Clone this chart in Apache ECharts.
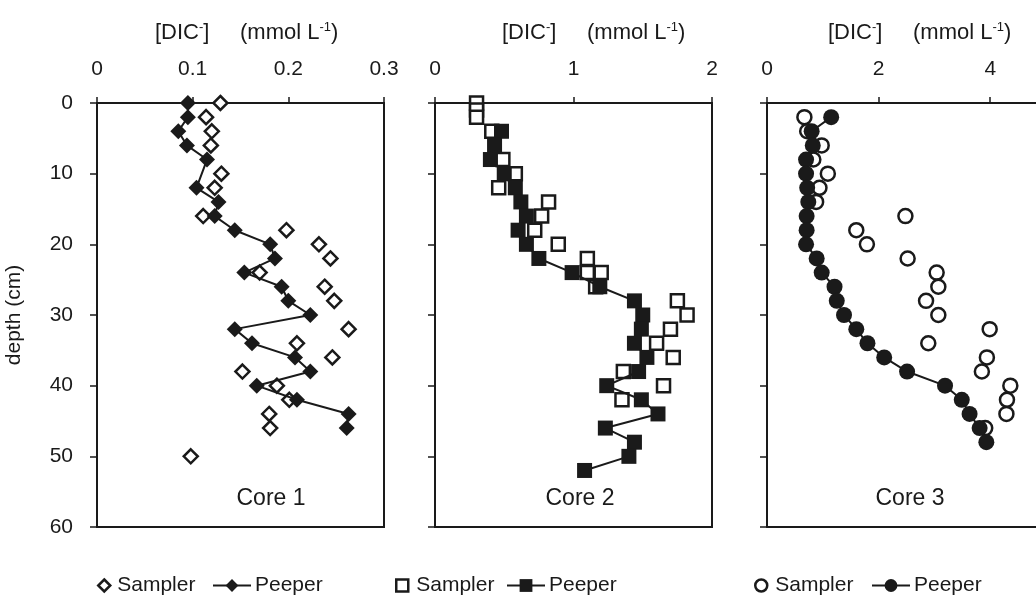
<!DOCTYPE html>
<html>
<head>
<meta charset="utf-8">
<script src="https://cdn.jsdelivr.net/npm/echarts@6/dist/echarts.min.js"></script>
<style>
  html, body { margin: 0; padding: 0; background: #fff; }
  #chart { width: 1036px; height: 601px; }
</style>
</head>
<body>
<div id="chart"></div>
<script>
// Core 1
var c1SamplerDepth = [0, 2, 4, 6, 10, 12, 16, 18, 20, 22, 24, 26, 28, 32, 34, 36, 38, 40, 42, 44, 46, 50];
var c1SamplerDic = [0.129, 0.114, 0.120, 0.119, 0.130, 0.123, 0.111, 0.198, 0.232, 0.244, 0.170, 0.238, 0.248, 0.263, 0.209, 0.246, 0.152, 0.188, 0.201, 0.180, 0.181, 0.098];
var c1PeeperDepth = [0, 2, 4, 6, 8, 12, 14, 16, 18, 20, 22, 24, 26, 28, 30, 32, 34, 36, 38, 40, 42, 44, 46];
var c1PeeperDic = [0.095, 0.095, 0.085, 0.094, 0.115, 0.104, 0.127, 0.123, 0.144, 0.181, 0.186, 0.154, 0.193, 0.200, 0.223, 0.144, 0.162, 0.207, 0.223, 0.167, 0.209, 0.263, 0.261];

// Core 2
var c2SamplerDepth = [0, 1, 2, 4, 8, 10, 12, 14, 16, 18, 20, 22, 24, 24, 26, 28, 30, 32, 34, 36, 38, 40, 42];
var c2SamplerDic = [0.30, 0.30, 0.30, 0.41, 0.49, 0.58, 0.46, 0.82, 0.77, 0.72, 0.89, 1.10, 1.10, 1.20, 1.16, 1.75, 1.82, 1.70, 1.60, 1.72, 1.36, 1.65, 1.35];
var c2PeeperDepth = [4, 6, 8, 10, 12, 14, 16, 18, 20, 22, 24, 26, 28, 30, 32, 34, 36, 38, 40, 42, 44, 46, 48, 50, 52];
var c2PeeperDic = [0.48, 0.43, 0.40, 0.50, 0.58, 0.62, 0.66, 0.60, 0.66, 0.75, 0.99, 1.19, 1.44, 1.50, 1.49, 1.44, 1.53, 1.47, 1.24, 1.49, 1.61, 1.23, 1.44, 1.40, 1.08];

// Core 3
var c3SamplerDepth = [2, 4, 6, 8, 10, 12, 14, 16, 18, 20, 22, 24, 26, 28, 30, 32, 34, 36, 38, 40, 42, 44, 46];
var c3SamplerDic = [0.67, 0.72, 0.98, 0.83, 1.09, 0.94, 0.88, 2.48, 1.60, 1.79, 2.52, 3.04, 3.07, 2.85, 3.07, 3.99, 2.89, 3.94, 3.85, 4.36, 4.30, 4.29, 3.91];
var c3PeeperDepth = [2, 4, 6, 8, 10, 12, 14, 16, 18, 20, 22, 24, 26, 28, 30, 32, 34, 36, 38, 40, 42, 44, 46, 48];
var c3PeeperDic = [1.15, 0.80, 0.82, 0.70, 0.70, 0.72, 0.74, 0.71, 0.71, 0.70, 0.89, 0.98, 1.21, 1.25, 1.38, 1.60, 1.80, 2.10, 2.51, 3.19, 3.49, 3.63, 3.81, 3.93];

var ink = '#1a1a1a';
var font = 'Liberation Sans, Arial, sans-serif';

function pairs(vals, depths) {
  return vals.map(function (v, i) { return [v, depths[i]]; });
}

var chart = echarts.init(document.getElementById('chart'), null, { renderer: 'canvas' });

// panel boxes
var grids = [
  { left: 97, right: 652, top: 103, bottom: 74, show: true, borderColor: ink, borderWidth: 2 },
  { left: 435, right: 324, top: 103, bottom: 74, show: true, borderColor: ink, borderWidth: 2 },
  { left: 767, right: 0, top: 103, bottom: 74 }
];

function topAxis(grid, max, interval, extra) {
  var ax = {
    type: 'value', gridIndex: grid, position: 'top', min: 0, max: max, interval: interval,
    axisLine: { show: true, lineStyle: { color: ink, width: 2 } },
    axisTick: { show: true, length: 6, lineStyle: { color: ink, width: 1.5 } },
    axisLabel: { color: ink, fontSize: 21, fontFamily: font, margin: 23 },
    splitLine: { show: false }
  };
  return Object.assign(ax, extra || {});
}

function depthAxis(grid, labels) {
  return {
    type: 'value', gridIndex: grid, inverse: true, min: 0, max: 60, interval: 10,
    name: labels ? 'depth (cm)' : '', nameLocation: 'middle', nameGap: 72,
    nameTextStyle: { color: ink, fontSize: 21, fontFamily: font },
    axisLine: { show: true, lineStyle: { color: ink, width: 2 } },
    axisTick: { show: true, length: 7, lineStyle: { color: ink, width: 1.5 } },
    axisLabel: { show: labels, color: ink, fontSize: 21, fontFamily: font, margin: 24 },
    splitLine: { show: false }
  };
}

var xAxes = [
  topAxis(0, 0.3, 0.1),
  topAxis(1, 2, 1),
  topAxis(2, 4.82, 2, { axisLabel: { color: ink, fontSize: 21, fontFamily: font, margin: 23, showMaxLabel: false } }),
  // bottom edge of core 3 box (right side is cut off)
  { type: 'value', gridIndex: 2, position: 'bottom', min: 0, max: 4.82,
    axisLine: { show: true, lineStyle: { color: ink, width: 2 } },
    axisTick: { show: false }, axisLabel: { show: false }, splitLine: { show: false } }
];

var yAxes = [depthAxis(0, true), depthAxis(1, false), depthAxis(2, false)];

function sampler(name, idx, symbol, size, data) {
  return {
    name: name, type: 'scatter', xAxisIndex: idx, yAxisIndex: idx,
    symbol: symbol, symbolSize: size, data: data,
    itemStyle: { color: '#fff', borderColor: ink, borderWidth: 2.5, opacity: 1 },
    z: 2
  };
}

function peeper(name, idx, symbol, size, data) {
  return {
    name: name, type: 'line', xAxisIndex: idx, yAxisIndex: idx,
    symbol: symbol, symbolSize: size, showAllSymbol: true, data: data,
    itemStyle: { color: ink, borderColor: ink, borderWidth: 0 },
    lineStyle: { color: ink, width: 2 },
    z: 3
  };
}

var series = [
  sampler('Sampler 1', 0, 'diamond', 14, pairs(c1SamplerDic, c1SamplerDepth)),
  peeper('Peeper 1', 0, 'diamond', 16, pairs(c1PeeperDic, c1PeeperDepth)),
  sampler('Sampler 2', 1, 'rect', 13, pairs(c2SamplerDic, c2SamplerDepth)),
  peeper('Peeper 2', 1, 'rect', 15, pairs(c2PeeperDic, c2PeeperDepth)),
  sampler('Sampler 3', 2, 'circle', 14, pairs(c3SamplerDic, c3SamplerDepth)),
  peeper('Peeper 3', 2, 'circle', 16, pairs(c3PeeperDic, c3PeeperDepth))
];

var unitRich = {
  sup: { fontSize: 13, fontFamily: font, color: ink, verticalAlign: 'top', padding: [0, 0, 11, 0] }
};
var unitText = '[DIC{sup|-}]     (mmol L{sup|-1})';

function headTitle(x) {
  return { text: unitText, left: x, top: 16,
    textStyle: { color: ink, fontSize: 22, fontWeight: 'normal', fontFamily: font, rich: unitRich } };
}
function coreTitle(label, x) {
  return { text: label, left: x, top: 482, textAlign: 'center',
    textStyle: { color: ink, fontSize: 23, fontWeight: 'normal', fontFamily: font } };
}

// one legend per entry so each icon gets its own size
function legendItem(name, x, w, h, gap, open) {
  return {
    left: x, top: 570, itemWidth: w, itemHeight: h,
    data: [name],
    formatter: function (n) { return n.replace(/ \d$/, ''); },
    itemStyle: open ? { borderWidth: 2.5, borderColor: ink, color: '#fff' } : {},
    textStyle: { color: ink, fontSize: 21, fontFamily: font, padding: [0, 0, 0, gap] },
    selectedMode: false
  };
}

chart.setOption({
  animation: false,
  backgroundColor: '#fff',
  title: [
    headTitle(150), headTitle(497), headTitle(823),
    coreTitle('Core 1', 266), coreTitle('Core 2', 575), coreTitle('Core 3', 905)
  ],
  legend: [
    legendItem('Sampler 1', 92, 12, 12, 2, true), legendItem('Peeper 1', 207, 38, 16, -1),
    legendItem('Sampler 2', 390, 12, 12, 3, true), legendItem('Peeper 2', 501, 38, 16, -1),
    legendItem('Sampler 3', 749, 12, 12, 3, true), legendItem('Peeper 3', 866, 38, 16, -1)
  ],
  grid: grids,
  xAxis: xAxes,
  yAxis: yAxes,
  series: series
});
</script>
</body>
</html>
